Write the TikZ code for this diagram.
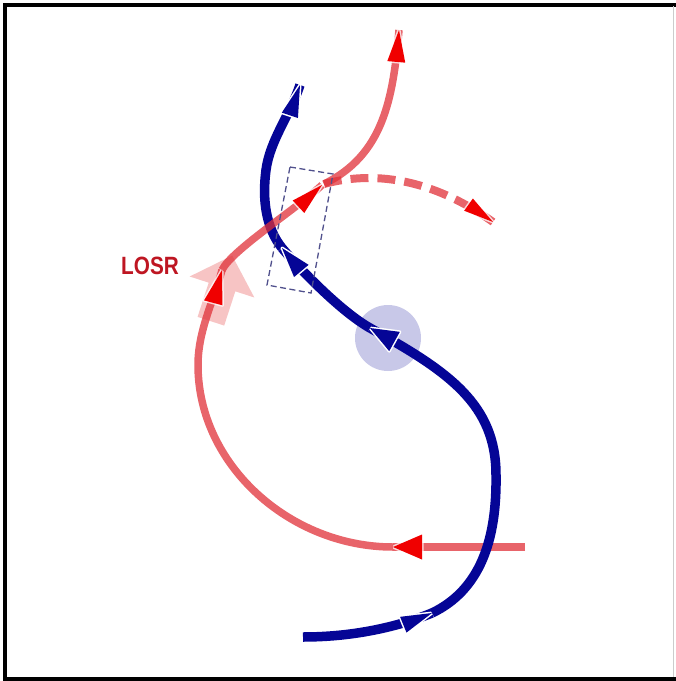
\documentclass[tikz,border=0pt]{standalone}
\usepackage{fontspec}
\newfontfamily\labelfont{Liberation Sans}
\usetikzlibrary{decorations.markings,shapes.geometric}
\definecolor{navy}{RGB}{5,5,150}
\definecolor{pathred}{RGB}{224,48,56}
\definecolor{headred}{RGB}{240,0,0}
\definecolor{hubfill}{RGB}{200,200,232}
\definecolor{palepink}{RGB}{247,196,196}
\definecolor{boxline}{RGB}{80,80,140}
\definecolor{losrred}{RGB}{190,22,34}
\tikzset{
  headmark/.style n args={3}{postaction={decorate,decoration={markings,
      mark=at position 1 with {%
        \draw[solid,white,line width=3pt,line join=round] (0,0) -- (-#2,#3) -- (-#2,-#3) -- cycle;
        \fill[#1] (0,0) -- (-#2,#3) -- (-#2,-#3) -- cycle;}}}},
  blueline/.style={draw=navy,line width=9.5pt},
  redline/.style={draw=pathred,line width=7.5pt,draw opacity=0.75},
}
\begin{document}
\begin{tikzpicture}[x=1pt,y=-1pt]
\useasboundingbox (0,0) rectangle (676,681);
% frame
\draw[line width=4pt,black] (3,4.5) -- (676,4.5);
\draw[line width=4pt,black] (5,3) -- (5,681);
\draw[line width=3.5pt,black] (3,679) -- (676,679);
\draw[line width=1pt,black!20] (673,6) -- (673,677);
% hub circle
\node[circle,fill=hubfill,minimum size=66pt,inner sep=0pt] (hub) at (388,338) {};
% pale LOSR block arrow (tilted about 18 degrees)
\begin{scope}[shift={(222,287)},rotate=-18]
\fill[palepink] (0,-33) -- (34,0) -- (14,0) -- (14,36) -- (-14,36) -- (-14,0) -- (-34,0) -- cycle;
\end{scope}
% named points
\coordinate (b0) at (303,637);
\coordinate (b1) at (432,613);
\coordinate (bm) at (496,475);
\coordinate (b2) at (370,328);
\coordinate (b3) at (282,248);
\coordinate (bu) at (266,170);
\coordinate (b4) at (300,85);
\coordinate (r0) at (525,547);
\coordinate (r1) at (393,547);
\coordinate (rl) at (198,365);
\coordinate (r2) at (222,270);
\coordinate (r3) at (322,185);
\coordinate (rj) at (324,184);
\coordinate (r4) at (399,30);
\coordinate (r5) at (493,222);
% blue upper part (under red)
\draw[blueline,headmark={navy}{32}{8.5}] (b3) .. controls (266,228) and (262,200) .. (bu)
  .. controls (270,140) and (290,115) .. (b4);
% red paths
\draw[redline,headmark={headred}{29}{12.5}] (r0) -- (r1);
\draw[redline,headmark={headred}{34}{9.5}] (r1) .. controls (290,547) and (198,465) .. (rl)
  .. controls (198,330) and (214,300) .. (r2);
\draw[redline,headmark={headred}{32}{8.5}] (r2) .. controls (232,250) and (295,210) .. (r3);
\draw[redline,headmark={headred}{32}{9}] (rj) .. controls (383,155) and (393,100) .. (r4);
\draw[redline,line width=8pt,dash pattern=on 18pt off 9pt,headmark={headred}{30}{7.5}]
  (rj) .. controls (395,165) and (455,195) .. (r5);
% blue lower parts (over red)
\draw[blueline,headmark={navy}{31}{8.5}] (b0) .. controls (360,637) and (405,624) .. (b1);
\draw[blueline,headmark={navy}{28}{11}] (b1) .. controls (480,590) and (497,540) .. (bm)
  .. controls (496,405) and (450,372) .. (b2);
\draw[blueline,headmark={navy}{30}{9.5}] (b2) .. controls (340,311) and (298,267) .. (b3);
% dashed box
\draw[boxline,line width=1.3pt,dash pattern=on 6pt off 3.5pt]
  (290,167) -- (333,174) -- (311,293) -- (267,285) -- cycle;
% label
\node[text=losrred,font=\labelfont\bfseries\fontsize{25}{25}\selectfont,inner sep=0pt] (losr) at (150,266) {\scalebox{0.83}[1]{LOSR}};
\end{tikzpicture}
\end{document}
